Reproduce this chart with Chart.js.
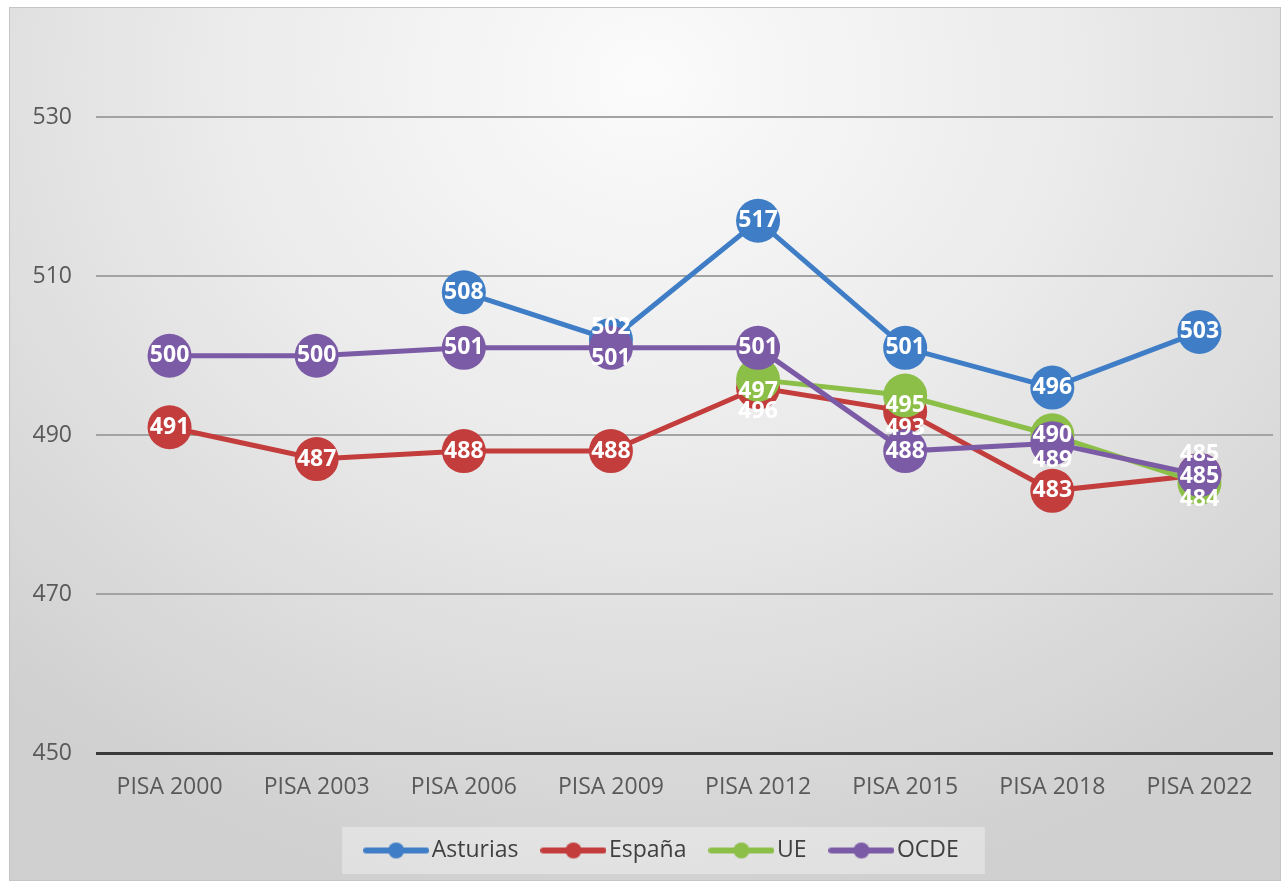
<!DOCTYPE html>
<html>
<head>
<meta charset="utf-8">
<script src="https://cdn.jsdelivr.net/npm/chart.js@4.4.1/dist/chart.umd.min.js"></script>
<style>
  html, body { margin: 0; padding: 0; background: #fff; }
  #marco {
    position: absolute; left: 9px; top: 7px;
    width: 1272px; height: 874px;
    box-sizing: border-box;
    border: 1px solid #c4c4c4;
    background: radial-gradient(ellipse 75% 95% at 50% 8%, #fbfbfb 0%, #ebebeb 45%, #d0d0d0 100%);
  }
  #grafica { display: block; }
</style>
</head>
<body>
<div id="marco"><canvas id="grafica" width="1270" height="872"></canvas></div>
<script>
// datos (PISA ciencias)
const categorias = ['PISA 2000', 'PISA 2003', 'PISA 2006', 'PISA 2009', 'PISA 2012', 'PISA 2015', 'PISA 2018', 'PISA 2022'];
const asturias = [null, null, 508, 502, 517, 501, 496, 503];
const espana = [491, 487, 488, 488, 496, 493, 483, 485];
const ue = [null, null, null, null, 497, 495, 490, 484];
const ocde = [500, 500, 501, 501, 501, 488, 489, 485];
const ticksY = [450, 470, 490, 510, 530];

const colores = ['#3f7ec6', '#c23d3b', '#8cbf48', '#7c5ba6'];
const fuente = "'Open Sans', sans-serif";

// desplazamiento vertical de cada etiqueta (px), por serie
const desplazamientos = [
    [0, 0, 0, -12, 0, 0, 0, 0],
    [0, 0, 0, 0, 24, 17, 0, -20],
    [0, 0, 0, 0, 12, 10, 0, 17],
    [0, 0, 0, 11, 0, 0, 17, 2]
];

// icono de la leyenda: linea con circulo
function iconoLeyenda(color) {
    const c = document.createElement('canvas');
    c.width = 66; c.height = 18;
    const g = c.getContext('2d');
    g.strokeStyle = color; g.lineWidth = 6; g.lineCap = 'round';
    g.beginPath(); g.moveTo(3, 9); g.lineTo(63, 9); g.stroke();
    g.fillStyle = color;
    g.beginPath(); g.arc(33, 9, 8, 0, Math.PI * 2); g.fill();
    return c;
}

const etiquetas = {
    id: 'etiquetas',
    afterDatasetsDraw(chart) {
        const ctx = chart.ctx;
        ctx.save();
        ctx.font = "bold 23px " + fuente;
        ctx.fillStyle = '#ffffff';
        ctx.textAlign = 'center';
        ctx.textBaseline = 'middle';
        chart.data.datasets.forEach((ds, i) => {
            const meta = chart.getDatasetMeta(i);
            meta.data.forEach((p, j) => {
                if (ds.data[j] === null) return;
                ctx.fillText(ds.data[j], p.x, p.y + desplazamientos[i][j]);
            });
        });
        ctx.restore();
    }
};

// mueve la leyenda un poco a la derecha y le pone fondo
const fondoLeyenda = {
    id: 'fondoLeyenda',
    afterLayout(chart) {
        chart.legend.left += 48;
    },
    beforeDraw(chart) {
        const ley = chart.legend;
        if (!ley.lineWidths) return;
        const pad = ley.options.labels.padding;
        const ancho = ley.lineWidths[0];
        const inicio = (ley.left + pad + ley.right - ancho) / 2;
        const x0 = inicio - 30;
        const x1 = inicio + ancho - pad + 26;
        const y0 = ley.legendHitBoxes[0].top - 12;
        const y1 = ley.legendHitBoxes[0].top + ley.legendHitBoxes[0].height + 12;
        const ctx = chart.ctx;
        ctx.save();
        ctx.fillStyle = 'rgba(255,255,255,0.35)';
        ctx.fillRect(x0, y0, x1 - x0, y1 - y0);
        ctx.restore();
    }
};

const nombres = ['Asturias', 'España', 'UE', 'OCDE'];
const series = [asturias, espana, ue, ocde];

const ctx = document.getElementById('grafica').getContext('2d');
const grafica = new Chart(ctx, {
    type: 'line',
    data: {
        labels: categorias,
        datasets: series.map((s, i) => ({
            label: nombres[i],
            data: s,
            borderColor: colores[i],
            backgroundColor: colores[i],
            borderWidth: 5,
            pointRadius: 22,
            pointBorderWidth: 0,
            pointBackgroundColor: colores[i],
            pointStyle: 'circle',
            order: 3 - i,
            tension: 0
        }))
    },
    options: {
        responsive: false,
        animation: false,
        layout: { autoPadding: false, padding: { top: 30, right: 7, left: 0, bottom: 8 } },
        scales: {
            x: {
                offset: true,
                grid: { display: false },
                border: { display: false },
                ticks: { color: '#595959', font: { family: fuente, size: 23 }, padding: 13 },
                afterFit: s => { s.height = 55; s.paddingLeft = 0; s.paddingRight = 0; }
            },
            y: {
                min: 450,
                max: 540,
                border: { display: false },
                grid: {
                    color: c => c.tick.value === 450 ? '#3a3a3a' : '#a3a3a3',
                    lineWidth: c => c.tick.value === 450 ? 3 : 2,
                    drawTicks: false
                },
                ticks: { color: '#595959', font: { family: fuente, size: 23 }, padding: 24 },
                afterBuildTicks: s => { s.ticks = ticksY.map(v => ({ value: v })); },
                afterFit: s => { s.width = 86; s.paddingTop = 0; s.paddingBottom = 0; }
            }
        },
        plugins: {
            tooltip: { enabled: false },
            legend: {
                position: 'bottom',
                labels: {
                    usePointStyle: true,
                    pointStyleWidth: 48,
                    padding: 31,
                    color: '#404040',
                    font: { family: fuente, size: 23 },
                    sort: (a, b) => a.datasetIndex - b.datasetIndex,
                    generateLabels: chart => chart.data.datasets.map((ds, i) => ({
                        text: ds.label,
                        pointStyle: iconoLeyenda(colores[i]),
                        fillStyle: colores[i],
                        strokeStyle: colores[i],
                        lineWidth: 0,
                        fontColor: '#404040',
                        datasetIndex: i,
                        hidden: false
                    }))
                }
            }
        }
    },
    plugins: [fondoLeyenda, etiquetas]
});
</script>
</body>
</html>
